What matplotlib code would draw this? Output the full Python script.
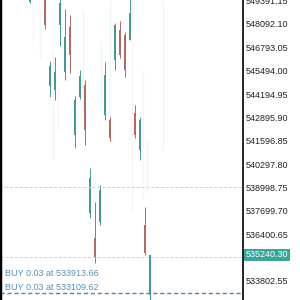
#!/usr/bin/env python3

'''
    Candlestick chart with order lines, terminal style.
'''

import matplotlib
matplotlib.use("Agg")
import matplotlib.pyplot as plt
import matplotlib.transforms as mtransforms

plt.rcParams['font.family'] = ['Liberation Sans', 'DejaVu Sans']

# bar index, open, high, low, close
bars   = [0, 3, 4, 5, 6, 7, 8, 9, 10, 11, 12, 13, 14, 15, 16, 17, 18, 19, 20, 21, 22, 23, 24]
opens  = [549317, 549595, 544641, 544418, 548036, 545420, 547925, 541913, 544028, 544696,
          537570, 536179, 537070, 543026, 542748, 546088, 547758, 547480, 547201, 543137,
          541078, 536903, 533005]
highs  = [549706, 549762, 546032, 546255, 549539, 548927, 548593, 544084, 545531, 544975,
          540076, 538183, 539129, 545977, 542915, 548148, 548259, 547647, 549595, 543583,
          542915, 537905, 535240.30]
lows   = [549261, 547814, 544028, 543861, 546867, 544975, 545364, 541189, 543917, 541356,
          537292, 534787, 536902, 542748, 541579, 545531, 546199, 545141, 547201, 541746,
          540521, 535233, 532650]
closes = [549595, 548036, 545754, 545420, 549261, 547368, 546366, 543861, 545197, 542191,
          539519, 535065, 538851, 545253, 541746, 548036, 546366, 545531, 548704, 541913,
          542748, 535344, 535240.30]

# faint history candles behind (bar position, high, low, bullish)
ghost_x    = [0.6, 2.0, 4.6, 5.6, 10.6, 14.2, 16.0, 20.4, 22.6, 23.4, 26.6]
ghost_high = [549428, 548871, 546645, 544418, 548871, 547201, 549428, 549428, 545531, 541634, 549428]
ghost_low  = [547201, 546088, 540521, 542191, 543861, 543305, 541634, 537737, 538294, 538851, 541078]
ghost_bull = [False, True, True, False, True, True, True, False, True, True, True]

grid_levels = [538998.75, 535101.60]
orders = [533913.66, 533109.62]
order_lots = 0.03
last_price = 535240.30

tick_start = 533802.55
tick_step = 1299.05
tick_count = 13

bull_color = '#4a9691'
bear_color = '#b26965'


def draw_chart():
    fig = plt.figure(figsize=(3, 3), dpi=100)
    ax = fig.add_axes([0, 0, 243 / 300, 1])

    for x, hi, lo, up in zip(ghost_x, ghost_high, ghost_low, ghost_bull):
        ax.vlines(x, lo, hi, color='#7fd3cc' if up else '#e6a3a0', lw=1, alpha=0.15)

    for x, o, h, l, c in zip(bars, opens, highs, lows, closes):
        col = bull_color if c >= o else bear_color
        ax.vlines(x, l, h, color=col, lw=0.7)
        ax.bar(x, abs(c - o), bottom=min(o, c), width=0.32, color=col, linewidth=0)

    for lvl in grid_levels:
        ax.axhline(lvl, color='#cfcfcf', lw=0.7, ls=(0, (3, 2)))

    ax.axhline(orders[1], color='#4f86b0', lw=1, ls=(0, (3, 2)))
    ax.text(0.02, 0.09, "BUY %.2f at %.2f" % (order_lots, orders[0]), transform=ax.transAxes,
            va='center', ha='left', fontsize=6.5, color='#5a8fb5')
    ax.text(0.02, 0.04, "BUY %.2f at %.2f" % (order_lots, orders[1]), transform=ax.transAxes,
            va='center', ha='left', fontsize=6.5, color='#5a8fb5')

    ticks = [tick_start + i * tick_step for i in range(tick_count)]
    ax.set_yticks(ticks)
    ax.set_yticklabels(["%.2f" % t for t in ticks])
    ax.yaxis.tick_right()
    ax.tick_params(axis='y', length=0, pad=2, labelsize=6.5, labelcolor='#222222')
    ax.set_xticks([])

    trans = mtransforms.blended_transform_factory(ax.transAxes, ax.transData)
    ax.text(1.012, last_price, "%.2f" % last_price, transform=trans, va='center', ha='left',
            fontsize=6.5, color='white', clip_on=False, zorder=10,
            bbox=dict(boxstyle='square,pad=0.2', facecolor='#3aa39a', edgecolor='none'))

    ax.set_xlim(-6, 42.6)
    ax.set_ylim(532727, 549428)
    for s in ('top', 'bottom'):
        ax.spines[s].set_visible(False)
    ax.spines['left'].set_linewidth(2.5)
    ax.spines['right'].set_linewidth(1.2)

    fig.savefig("out.png", dpi=100, facecolor='white')


if __name__ == "__main__":
    draw_chart()
